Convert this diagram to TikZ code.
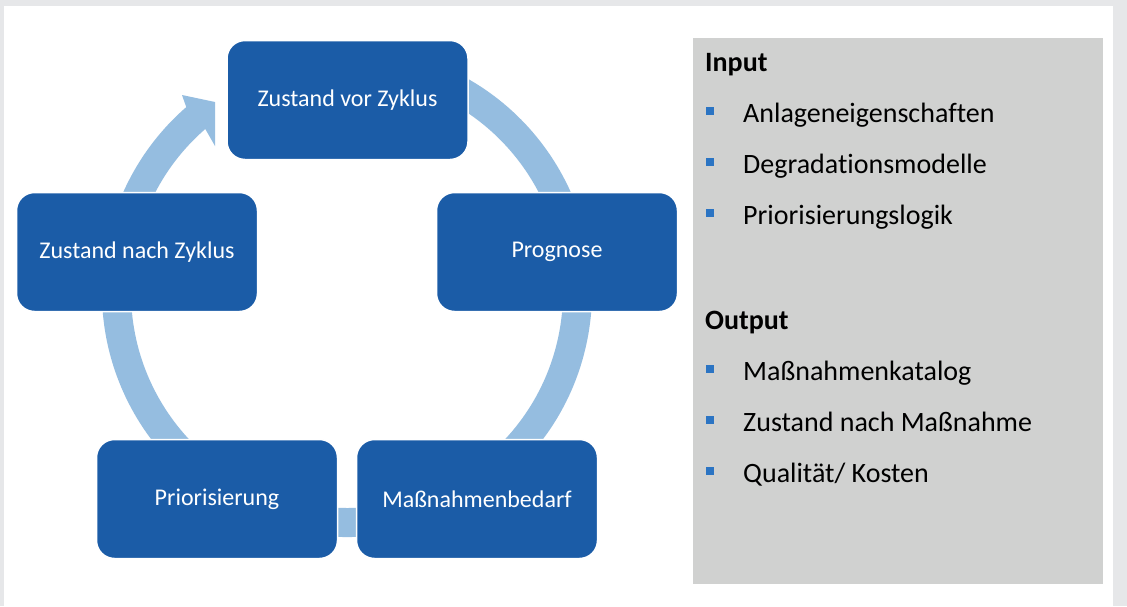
\documentclass[tikz,border=0pt]{standalone}
\usepackage{fontspec}
\setmainfont{Carlito}[Ligatures=NoCommon]
\usetikzlibrary{calc}
\definecolor{boxblue}{HTML}{1B5CA7}
\definecolor{ringblue}{HTML}{95BDE0}
\definecolor{panelgray}{HTML}{D0D1D0}
\definecolor{framegray}{HTML}{E6E7E9}
\definecolor{bulletblue}{HTML}{2B74C3}
\begin{document}
\begin{tikzpicture}[x=1pt,y=1pt,
    cyclebox/.style={rectangle,rounded corners=18pt,fill=boxblue,draw=white,line width=1.5pt,
        minimum width=241pt,minimum height=119pt,text=white,font=\fontsize{24}{28}\selectfont},
    bullet/.style={rectangle,fill=bulletblue,minimum size=7.5pt,inner sep=0pt},
    item/.style={anchor=base west,inner sep=0pt,font=\fontsize{28}{32}\selectfont},
    head/.style={anchor=base west,inner sep=0pt,font=\fontsize{28}{32}\selectfont\bfseries}]
    \useasboundingbox (0,0) rectangle (1127,-606);
    \fill[framegray] (0,0) rectangle (1127,-606);
    \fill[white] (4,-6) rectangle (1113,-606);
    \fill[panelgray] (693,-38) rectangle (1103,-584);
    % ring arrow behind the boxes
    \coordinate (m) at (347,-292);
    \fill[ringblue] (m) ++(80:245) arc[start angle=80,end angle=-229,radius=245]
        -- (182,-95) -- (215,-102) -- (215,-146)
        -- ($(m)+(-229:216)$) arc[start angle=-229,end angle=80,radius=216] -- cycle;
    \node[cyclebox] (vor) at (347.5,-100) {Zustand vor Zyklus};
    \node[cyclebox] (prog) at (557,-252) {Prognose};
    \node[cyclebox] (bedarf) at (477,-499) {Maßnahmenbedarf};
    \node[cyclebox] (prio) at (217,-499) {Priorisierung};
    \node[cyclebox] (nach) at (137,-252) {Zustand nach Zyklus};
    % input / output list
    \node[head] (input) at (705,-71) {Input};
    \foreach \y/\t [count=\i] in {122/Anlageneigenschaften,173/Degradationsmodelle,224/Priorisierungslogik}{
        \node[bullet] (ib\i) at (710,-\y+11) {};
        \node[item] (in\i) at (743,-\y) {\t};
    }
    \node[head] (output) at (705,-329) {Output};
    \foreach \y/\t [count=\i] in {380/Maßnahmenkatalog,431/Zustand nach Maßnahme,482/{Qualität/ Kosten}}{
        \node[bullet] (ob\i) at (710,-\y+11) {};
        \node[item] (out\i) at (743,-\y) {\t};
    }
\end{tikzpicture}
\end{document}
